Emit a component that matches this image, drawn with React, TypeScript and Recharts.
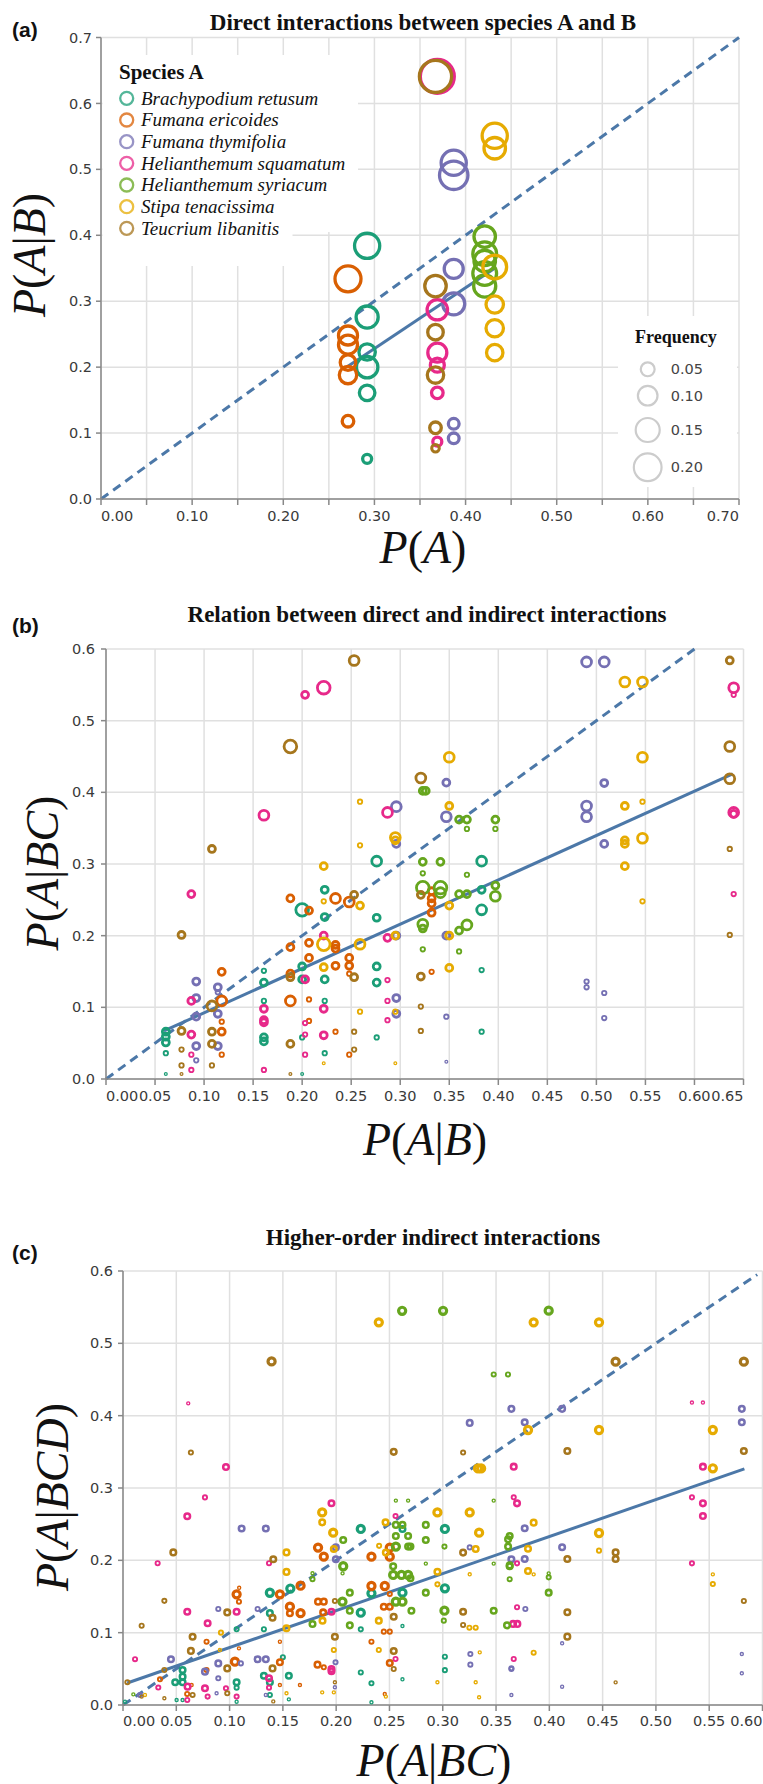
import React from "react";
import { CartesianGrid, ReferenceLine, Scatter, ScatterChart, XAxis, YAxis } from "recharts";

type Pt = [number, number, number]; // [x, y, frequency]

const speciesNames = [
  "Brachypodium retusum",
  "Fumana ericoides",
  "Fumana thymifolia",
  "Helianthemum squamatum",
  "Helianthemum syriacum",
  "Stipa tenacissima",
  "Teucrium libanitis",
];
const speciesColors = ["#1b9e77", "#d95f02", "#7570b3", "#e7298a", "#66a61e", "#e6ab02", "#a6761d"];

// ---------- (a) P(A) vs P(A|B) ----------
const aBR: Pt[] = [[0.292, 0.384, 0.165], [0.292, 0.276, 0.127], [0.292, 0.223, 0.07], [0.292, 0.2, 0.12], [0.292, 0.161, 0.063], [0.292, 0.061, 0.021]];
const aFE: Pt[] = [[0.271, 0.334, 0.176], [0.271, 0.248, 0.094], [0.271, 0.234, 0.094], [0.271, 0.207, 0.063], [0.271, 0.188, 0.079], [0.271, 0.118, 0.035]];
const aFT: Pt[] = [[0.387, 0.51, 0.165], [0.387, 0.491, 0.21], [0.387, 0.349, 0.094], [0.387, 0.296, 0.127], [0.387, 0.114, 0.03], [0.387, 0.092, 0.03]];
const aHS: Pt[] = [[0.369, 0.641, 0.3], [0.369, 0.287, 0.108], [0.369, 0.222, 0.094], [0.369, 0.203, 0.051], [0.369, 0.161, 0.035], [0.369, 0.087, 0.021]];
const aHY: Pt[] = [[0.421, 0.398, 0.12], [0.421, 0.372, 0.147], [0.421, 0.361, 0.12], [0.421, 0.342, 0.147], [0.421, 0.323, 0.127]];
const aST: Pt[] = [[0.432, 0.551, 0.165], [0.432, 0.532, 0.12], [0.432, 0.352, 0.147], [0.432, 0.295, 0.079], [0.432, 0.259, 0.079], [0.432, 0.222, 0.07]];
const aTL: Pt[] = [[0.367, 0.641, 0.27], [0.367, 0.323, 0.12], [0.367, 0.253, 0.063], [0.367, 0.188, 0.07], [0.367, 0.108, 0.035], [0.367, 0.077, 0.015]];
const aXTicks = [0, 0.05, 0.1, 0.15, 0.2, 0.25, 0.3, 0.35, 0.4, 0.45, 0.5, 0.55, 0.6, 0.65, 0.7];
const aYTicks = [0, 0.1, 0.2, 0.3, 0.4, 0.5, 0.6, 0.7];
const aFit = [{ x: 0.271, y: 0.2015 }, { x: 0.432, y: 0.35 }];
const aDiag = [{ x: 0, y: 0 }, { x: 0.7, y: 0.7 }];
const freqLegend = [0.05, 0.1, 0.15, 0.2];

// ---------- (b) P(A|B) vs P(A|BC) ----------
const L = 0.1, M = 0.06, S = 0.03, XS = 0.012, XXS = 0.005;
const bBR: Pt[] = [
  [0.061, 0.066, S], [0.061, 0.059, S], [0.061, 0.051, S], [0.061, 0.036, XS], [0.061, 0.007, XXS],
  [0.161, 0.151, XS], [0.161, 0.1345, S], [0.161, 0.109, XS], [0.161, 0.058, S], [0.161, 0.0525, S],
  [0.2, 0.236, L], [0.2, 0.157, S], [0.2, 0.139, S], [0.2, 0.058, XS], [0.2, 0.007, XXS],
  [0.223, 0.264, S], [0.223, 0.226, S], [0.223, 0.139, S], [0.223, 0.109, XS], [0.223, 0.036, XS],
  [0.276, 0.304, M], [0.276, 0.225, S], [0.276, 0.157, S], [0.276, 0.1345, S], [0.276, 0.058, XS],
  [0.383, 0.304, M], [0.383, 0.264, S], [0.383, 0.236, M], [0.383, 0.152, XS], [0.383, 0.066, XS],
];
const bFE: Pt[] = [
  [0.118, 0.1495, S], [0.118, 0.109, M], [0.118, 0.08, XS], [0.118, 0.066, S], [0.118, 0.034, XS],
  [0.188, 0.252, S], [0.188, 0.184, S], [0.188, 0.147, S], [0.188, 0.109, M],
  [0.207, 0.235, S], [0.207, 0.19, S], [0.207, 0.169, S], [0.207, 0.111, XS], [0.207, 0.081, XS],
  [0.234, 0.252, M], [0.234, 0.187, S], [0.234, 0.182, S], [0.234, 0.158, S], [0.234, 0.066, XS],
  [0.248, 0.247, M], [0.248, 0.169, S], [0.248, 0.158, S], [0.248, 0.147, XS], [0.248, 0.034, XS],
  [0.332, 0.262, S], [0.332, 0.252, S], [0.332, 0.245, S], [0.332, 0.232, S], [0.332, 0.1495, XS],
];
const bFT: Pt[] = [
  [0.092, 0.136, S], [0.092, 0.113, S], [0.092, 0.087, S], [0.092, 0.046, S], [0.092, 0.026, XS],
  [0.114, 0.128, S], [0.114, 0.121, XS], [0.114, 0.091, S], [0.114, 0.046, S],
  [0.296, 0.38, M], [0.296, 0.328, S], [0.296, 0.2, S], [0.296, 0.113, S], [0.296, 0.091, S],
  [0.347, 0.4135, S], [0.347, 0.366, M], [0.347, 0.2, S], [0.347, 0.087, XS], [0.347, 0.024, XXS],
  [0.49, 0.582, M], [0.49, 0.381, M], [0.49, 0.366, M], [0.49, 0.136, XS], [0.49, 0.128, XS],
  [0.508, 0.582, M], [0.508, 0.413, S], [0.508, 0.328, S], [0.508, 0.12, XS], [0.508, 0.085, XS],
];
const bHS: Pt[] = [
  [0.087, 0.258, S], [0.087, 0.109, S], [0.087, 0.062, S], [0.087, 0.034, XS], [0.087, 0.0126, XS],
  [0.161, 0.368, M], [0.161, 0.098, S], [0.161, 0.082, S], [0.161, 0.079, S], [0.161, 0.0126, XS],
  [0.203, 0.536, S], [0.203, 0.139, S], [0.203, 0.078, XS], [0.203, 0.062, XS], [0.203, 0.034, XS],
  [0.222, 0.546, L], [0.222, 0.2, S], [0.222, 0.098, S], [0.222, 0.061, S],
  [0.287, 0.372, M], [0.287, 0.197, S], [0.287, 0.138, XS], [0.287, 0.109, XS], [0.287, 0.082, XS],
  [0.64, 0.546, M], [0.64, 0.536, XS], [0.64, 0.372, M], [0.64, 0.37, S], [0.64, 0.258, XS],
];
const bHY: Pt[] = [
  [0.323, 0.402, S], [0.326, 0.402, S], [0.323, 0.303, S], [0.323, 0.287, XS], [0.323, 0.267, L], [0.323, 0.216, M], [0.323, 0.21, S], [0.323, 0.181, XS],
  [0.341, 0.303, S], [0.341, 0.267, L], [0.341, 0.26, M],
  [0.36, 0.362, S], [0.36, 0.258, S], [0.36, 0.207, S], [0.36, 0.178, XS],
  [0.368, 0.362, S], [0.368, 0.349, XS], [0.368, 0.285, XS], [0.368, 0.258, S], [0.368, 0.215, M],
  [0.397, 0.362, S], [0.397, 0.349, XS], [0.397, 0.27, S], [0.397, 0.255, M],
];
const bST: Pt[] = [
  [0.222, 0.297, S], [0.222, 0.248, XS], [0.222, 0.188, L], [0.222, 0.156, S], [0.222, 0.022, XXS],
  [0.259, 0.387, XS], [0.259, 0.326, XS], [0.259, 0.242, S], [0.259, 0.188, M], [0.259, 0.094, XS],
  [0.295, 0.337, M], [0.295, 0.333, S], [0.295, 0.2, S], [0.295, 0.094, XS], [0.295, 0.022, XXS],
  [0.35, 0.449, M], [0.35, 0.381, S], [0.35, 0.242, S], [0.35, 0.2, S], [0.35, 0.155, S],
  [0.529, 0.554, M], [0.529, 0.381, S], [0.529, 0.333, S], [0.529, 0.328, S], [0.529, 0.297, S],
  [0.547, 0.554, M], [0.547, 0.449, M], [0.547, 0.387, XS], [0.547, 0.336, M], [0.547, 0.248, XS],
];
const bTL: Pt[] = [
  [0.077, 0.201, S], [0.077, 0.067, S], [0.077, 0.041, XS], [0.077, 0.019, XS], [0.077, 0.007, XXS],
  [0.108, 0.321, S], [0.108, 0.102, M], [0.108, 0.066, S], [0.108, 0.049, S], [0.108, 0.019, XS],
  [0.188, 0.464, L], [0.188, 0.142, S], [0.188, 0.049, S], [0.188, 0.007, XXS],
  [0.253, 0.584, M], [0.253, 0.257, S], [0.253, 0.142, S], [0.253, 0.066, XS], [0.253, 0.041, XS],
  [0.321, 0.42, M], [0.321, 0.257, S], [0.321, 0.143, S], [0.321, 0.101, XS], [0.321, 0.067, XS],
  [0.636, 0.584, S], [0.636, 0.464, M], [0.636, 0.419, M], [0.636, 0.321, XS], [0.636, 0.201, XS],
];
const bXTicks = [0, 0.05, 0.1, 0.15, 0.2, 0.25, 0.3, 0.35, 0.4, 0.45, 0.5, 0.55, 0.6, 0.65];
const bYTicks = [0, 0.1, 0.2, 0.3, 0.4, 0.5, 0.6];
const bFit = [{ x: 0.059, y: 0.067 }, { x: 0.639, y: 0.4256 }];
const bDiag = [{ x: 0, y: 0 }, { x: 0.6, y: 0.6 }];

// ---------- (c) P(A|BC) vs P(A|BCD) ----------
const cL = 0.06, cM = 0.037, cS = 0.021, cX = 0.011;
const cBR: Pt[] = [
  [0.2231, 0.2434, cL], [0.2622, 0.2434, cM], [0.302, 0.2434, cL], [0.157, 0.161, cL], [0.1378, 0.1552, cL], [0.302, 0.1613, cL],
  [0.2622, 0.1553, cL], [0.2331, 0.1544, cL], [0.2231, 0.1276, cL], [0.1378, 0.127, cM], [0.2622, 0.1092, cX], [0.2231, 0.1046, cS],
  [0.1322, 0.1047, cS], [0.1066, 0.1047, cS], [0.302, 0.0668, cS], [0.15, 0.066, cS], [0.0559, 0.0484, cM], [0.0559, 0.0392, cM],
  [0.049, 0.0315, cM], [0.0559, 0.0315, cM], [0.1066, 0.0315, cM], [0.1378, 0.0315, cM], [0.1322, 0.0404, cM], [0.1556, 0.0404, cM],
  [0.2231, 0.045, cS], [0.302, 0.0482, cS], [0.2622, 0.0355, cX], [0.2331, 0.03, cS], [0.0503, 0.0069, cX], [0.1066, 0.0046, cX],
  [0.1556, 0.0078, cX], [0.2331, 0.0037, cX], [0.0019, 0.0046, cX], [0.0559, 0.0069, cX], [0.1378, 0.0139, cS], [0.1066, 0.024, cS],
];
const cFE: Pt[] = [
  [0.183, 0.2176, cL], [0.2503, 0.2176, cL], [0.1884, 0.2051, cL], [0.2331, 0.2051, cL], [0.2503, 0.2051, cL], [0.2331, 0.1645, cL],
  [0.2456, 0.1645, cL], [0.1666, 0.1649, cL], [0.1472, 0.153, cL], [0.1066, 0.153, cL], [0.2503, 0.1535, cS], [0.1088, 0.1428, cS],
  [0.183, 0.1429, cM], [0.1884, 0.1429, cM], [0.1566, 0.136, cL], [0.1566, 0.1269, cM], [0.1666, 0.127, cL], [0.1878, 0.128, cM],
  [0.2447, 0.1359, cM], [0.2503, 0.1359, cM], [0.2447, 0.1014, cS], [0.2503, 0.1014, cS], [0.2331, 0.0875, cS], [0.0784, 0.0875, cS],
  [0.1088, 0.0783, cX], [0.1472, 0.0875, cX], [0.1825, 0.0558, cM], [0.1884, 0.0521, cS], [0.2503, 0.0581, cM], [0.0784, 0.0484, cS],
  [0.105, 0.0599, cL], [0.1472, 0.059, cM], [0.0347, 0.0355, cS], [0.166, 0.0276, cX], [0.1472, 0.0276, cX], [0.0644, 0.0276, cX],
  [0.2456, 0.0152, cX], [0.109, 0.162, cX], [0.0602, 0.0152, cS],
];
const cFT: Pt[] = [
  [0.3644, 0.4094, cM], [0.412, 0.4094, cM], [0.5806, 0.4094, cM], [0.3253, 0.39, cM], [0.3769, 0.3908, cM], [0.5806, 0.3908, cM],
  [0.1113, 0.244, cM], [0.134, 0.244, cM], [0.3769, 0.2443, cM], [0.1997, 0.2179, cM], [0.3253, 0.2179, cS], [0.412, 0.218, cM],
  [0.1997, 0.2015, cM], [0.3644, 0.2015, cM], [0.3769, 0.2018, cM], [0.0894, 0.1327, cS], [0.1263, 0.1327, cS], [0.3775, 0.1327, cS],
  [0.045, 0.0633, cM], [0.0894, 0.0575, cM], [0.1263, 0.0633, cM], [0.134, 0.0633, cM], [0.1106, 0.0575, cS], [0.1994, 0.059, cS],
  [0.0769, 0.0461, cM], [0.0894, 0.0369, cS], [0.3259, 0.0704, cS], [0.3259, 0.0558, cS], [0.3644, 0.0498, cS], [0.412, 0.0853, cX],
  [0.5806, 0.0705, cX], [0.5806, 0.0438, cX], [0.412, 0.0253, cX], [0.3644, 0.0138, cX], [0.0159, 0.0139, cS], [0.0878, 0.0162, cX],
  [0.134, 0.0139, cX], [0.1988, 0.0245, cX], [0.3644, 0.0507, cS],
];
const cHS: Pt[] = [
  [0.0612, 0.417, cX], [0.5338, 0.4181, cX], [0.5441, 0.4181, cX], [0.0966, 0.329, cM], [0.3666, 0.3295, cM], [0.5441, 0.3295, cM],
  [0.0769, 0.287, cS], [0.3666, 0.2871, cS], [0.5338, 0.2871, cS], [0.1956, 0.279, cM], [0.3697, 0.2788, cM], [0.5441, 0.2788, cM],
  [0.0603, 0.261, cM], [0.2557, 0.2612, cS], [0.5441, 0.2613, cM], [0.0325, 0.196, cS], [0.137, 0.196, cS], [0.5338, 0.1958, cS],
  [0.3697, 0.1958, cS], [0.0603, 0.129, cM], [0.1066, 0.129, cM], [0.1956, 0.129, cM], [0.3697, 0.1351, cS], [0.366, 0.1121, cM],
  [0.37, 0.1121, cM], [0.0794, 0.113, cM], [0.1956, 0.0498, cM], [0.1956, 0.0466, cM], [0.2557, 0.0636, cS], [0.3666, 0.0636, cS],
  [0.0113, 0.0633, cS], [0.0331, 0.0241, cS], [0.0606, 0.0254, cM], [0.0769, 0.0231, cM], [0.1066, 0.0116, cS], [0.0794, 0.0116, cS],
  [0.0966, 0.0231, cS], [0.137, 0.0369, cM], [0.137, 0.024, cS], [0.0603, 0.0069, cS],
];
const cHY: Pt[] = [
  [0.2619, 0.545, cL], [0.3003, 0.545, cL], [0.3994, 0.5452, cL], [0.3478, 0.457, cS], [0.3612, 0.457, cS], [0.256, 0.2826, cX],
  [0.2675, 0.2826, cX], [0.3478, 0.2826, cX], [0.256, 0.249, cM], [0.2622, 0.249, cM], [0.2841, 0.249, cM], [0.256, 0.2336, cM],
  [0.2675, 0.2336, cM], [0.3628, 0.2336, cM], [0.3613, 0.229, cM], [0.2066, 0.228, cM], [0.2841, 0.228, cM], [0.256, 0.219, cL],
  [0.2675, 0.219, cM], [0.2697, 0.219, cM], [0.3016, 0.219, cS], [0.3613, 0.219, cM], [0.2535, 0.1918, cM], [0.2066, 0.1918, cL],
  [0.2841, 0.1955, cX], [0.3478, 0.1955, cX], [0.3628, 0.1918, cM], [0.2535, 0.1798, cL], [0.2613, 0.1798, cL], [0.2675, 0.1798, cL],
  [0.2697, 0.1752, cM], [0.1778, 0.1821, cX], [0.206, 0.182, cX], [0.1778, 0.174, cS], [0.2128, 0.1553, cM], [0.2841, 0.1553, cM],
  [0.3628, 0.1739, cS], [0.3994, 0.182, cX], [0.3994, 0.1765, cS], [0.3994, 0.1553, cM], [0.2059, 0.1429, cL], [0.256, 0.1429, cL],
  [0.2622, 0.1429, cL], [0.2706, 0.1304, cM], [0.3016, 0.1304, cL], [0.3478, 0.1304, cM], [0.2128, 0.1304, cM], [0.1778, 0.112, cM],
  [0.2128, 0.1101, cM], [0.301, 0.1166, cS], [0.3603, 0.1101, cM], [0.0097, 0.0147, cX], [0.3628, 0.193, cM],
];
const cST: Pt[] = [
  [0.24, 0.529, cL], [0.3853, 0.529, cL], [0.4466, 0.529, cL], [0.38, 0.3802, cL], [0.4466, 0.3802, cL], [0.5534, 0.3802, cL],
  [0.3331, 0.327, cL], [0.336, 0.327, cL], [0.5534, 0.3272, cL], [0.1869, 0.2663, cL], [0.295, 0.2663, cL], [0.3253, 0.2663, cL],
  [0.1869, 0.2525, cM], [0.2463, 0.2525, cM], [0.3853, 0.2521, cM], [0.1972, 0.2383, cL], [0.3341, 0.2383, cL], [0.4466, 0.2378, cL],
  [0.2403, 0.22, cS], [0.1978, 0.2157, cM], [0.3309, 0.2157, cM], [0.38, 0.2161, cM], [0.2466, 0.2107, cM], [0.1534, 0.211, cM],
  [0.4466, 0.2134, cS], [0.1534, 0.184, cM], [0.295, 0.1843, cM], [0.38, 0.1852, cM], [0.3253, 0.1807, cX], [0.3853, 0.1806, cX],
  [0.5534, 0.1806, cX], [0.5534, 0.1672, cS], [0.295, 0.1668, cS], [0.1872, 0.1166, cM], [0.24, 0.1166, cM], [0.1534, 0.1061, cM],
  [0.0919, 0.1, cS], [0.325, 0.1069, cS], [0.3309, 0.1069, cS], [0.1978, 0.076, cS], [0.24, 0.076, cS], [0.0909, 0.0761, cX],
  [0.3347, 0.0728, cX], [0.3853, 0.0723, cS], [0.295, 0.0314, cX], [0.3309, 0.0314, cX], [0.1869, 0.0175, cX], [0.1978, 0.0175, cX],
  [0.2466, 0.0116, cX], [0.3341, 0.0107, cX], [0.0206, 0.0139, cX], [0.1534, 0.0162, cX],
];
const cTL: Pt[] = [
  [0.1394, 0.475, cL], [0.4622, 0.4747, cL], [0.5825, 0.4747, cL], [0.0637, 0.349, cS], [0.254, 0.35, cM], [0.3191, 0.349, cS],
  [0.4169, 0.3511, cM], [0.5825, 0.3511, cM], [0.0472, 0.211, cM], [0.3191, 0.2107, cM], [0.4622, 0.211, cM], [0.141, 0.2015, cM],
  [0.4169, 0.2018, cM], [0.4622, 0.2018, cM], [0.0388, 0.144, cS], [0.1988, 0.1438, cS], [0.5825, 0.1438, cS], [0.0978, 0.128, cM],
  [0.1403, 0.1206, cM], [0.3191, 0.129, cM], [0.4169, 0.1282, cM], [0.254, 0.1221, cM], [0.0175, 0.1096, cS], [0.3191, 0.1106, cS],
  [0.0653, 0.0944, cM], [0.1988, 0.0944, cM], [0.4169, 0.0945, cM], [0.0637, 0.0748, cM], [0.254, 0.0746, cM], [0.0388, 0.0484, cS],
  [0.0978, 0.0506, cM], [0.1403, 0.0506, cM], [0.254, 0.0498, cS], [0.0041, 0.0315, cS], [0.1988, 0.0314, cX], [0.4622, 0.0313, cX],
  [0.0175, 0.0116, cX], [0.0388, 0.0093, cX], [0.0653, 0.0139, cS], [0.0978, 0.0162, cS], [0.141, 0.005, cX],
];
const cXTicks = [0, 0.05, 0.1, 0.15, 0.2, 0.25, 0.3, 0.35, 0.4, 0.45, 0.5, 0.55, 0.6];
const cYTicks = [0, 0.1, 0.2, 0.3, 0.4, 0.5, 0.6];
const cFit = [{ x: 0.004, y: 0.0304 }, { x: 0.583, y: 0.3264 }];
const cDiag = [{ x: 0, y: 0 }, { x: 0.595, y: 0.595 }];

const LINE = "#4c78a8";
const AXIS = "#888";
const GRID = "#e0e0e0";
const TICK_FONT = "DejaVu Sans";
const SERIF = "Liberation Serif";

const toPts = (arr: Pt[]) => arr.map(([x, y, f]) => ({ x, y, f }));

const ring = (color: string, k: number, maxW: number, ratio: number) => (p: any) => {
  const r = k * Math.sqrt(p.payload.f);
  return <circle cx={p.cx} cy={p.cy} r={r} fill="none" stroke={color} strokeWidth={Math.min(maxW, ratio * r)} />;
};

const makeXTick = (min: number, max: number, labelStep: number) => (props: any) => {
  const { x, y, payload } = props;
  const v = payload.value;
  const k = v / labelStep;
  if (Math.abs(k - Math.round(k)) > 1e-6) return <g />;
  const anchor = Math.abs(v - min) < 1e-9 ? "start" : Math.abs(v - max) < 1e-9 ? "end" : "middle";
  return (
    <text x={x} y={y} dy="0.71em" textAnchor={anchor} fontFamily={TICK_FONT} fontSize={14.5} fill="#3a3a3a">
      {v.toFixed(2)}
    </text>
  );
};

const YTick = (props: any) => (
  <text x={props.x} y={props.y} dy="0.35em" textAnchor="end" fontFamily={TICK_FONT} fontSize={14.5} fill="#3a3a3a">
    {props.payload.value.toFixed(1)}
  </text>
);

interface PanelProps {
  top: number;
  height: number;
  marginTop: number;
  marginRight: number;
  yWidth: number;
  xHeight: number;
  xTicks: number[];
  yTicks: number[];
  labelStep: number;
  yTickMargin: number;
  xTickMargin: number;
  series: Pt[][];
  k: number;
  maxW: number;
  ratio: number;
  fit: { x: number; y: number }[];
  diag: { x: number; y: number }[];
}

const Panel: React.FC<PanelProps> = (p) => {
  const xMax = p.xTicks[p.xTicks.length - 1];
  const yMax = p.yTicks[p.yTicks.length - 1];
  return (
    <div style={{ position: "absolute", left: 0, top: p.top }}>
      <ScatterChart width={763} height={p.height} margin={{ top: p.marginTop, right: p.marginRight, left: 0, bottom: 0 }}>
        <CartesianGrid stroke={GRID} strokeWidth={1.5} />
        <XAxis
          type="number"
          dataKey="x"
          domain={[0, xMax]}
          ticks={p.xTicks}
          interval={0}
          height={p.xHeight}
          tickSize={6}
          tickMargin={p.xTickMargin}
          axisLine={{ stroke: AXIS, strokeWidth: 1.5 }}
          tickLine={{ stroke: AXIS, strokeWidth: 1.5 }}
          tick={makeXTick(0, xMax, p.labelStep)}
        />
        <YAxis
          type="number"
          dataKey="y"
          domain={[0, yMax]}
          ticks={p.yTicks}
          interval={0}
          width={p.yWidth}
          tickSize={5}
          tickMargin={p.yTickMargin}
          axisLine={{ stroke: AXIS, strokeWidth: 1.5 }}
          tickLine={{ stroke: AXIS, strokeWidth: 1.5 }}
          tick={YTick}
        />
        {p.series.map((s, i) => (
          <Scatter
            key={speciesNames[i]}
            name={speciesNames[i]}
            data={toPts(s)}
            fill={speciesColors[i]}
            shape={ring(speciesColors[i], p.k, p.maxW, p.ratio)}
            isAnimationActive={false}
          />
        ))}
        <ReferenceLine segment={[p.diag[0], p.diag[1]]} stroke={LINE} strokeWidth={3} strokeDasharray="9 6" ifOverflow="visible" />
        <ReferenceLine segment={[p.fit[0], p.fit[1]]} stroke={LINE} strokeWidth={3} ifOverflow="visible" />
      </ScatterChart>
    </div>
  );
};

const MathLabel: React.FC<{ parts: string[] }> = ({ parts }) => (
  <>
    {parts.map((t, i) => (
      <tspan key={i} fontStyle={/[A-Z]/.test(t) ? "italic" : "normal"}>
        {t}
      </tspan>
    ))}
  </>
);

const legendRows = [98.3, 120, 141.7, 163.3, 185, 206.7, 228.3];
const freqRows = [369.3, 395.7, 430, 467.3];

const App: React.FC = () => {
  const mathStyle = { fontFamily: SERIF, fontSize: 46, fill: "#111" };
  const titleStyle = { fontFamily: SERIF, fontSize: 23, fontWeight: 700, fill: "#111" };
  const tagStyle = { fontFamily: "Liberation Sans", fontSize: 21, fontWeight: 700, fill: "#111" };
  return (
    <div style={{ position: "absolute", left: 0, top: 0, width: 763, height: 1784, background: "#fff", overflow: "hidden" }}>
      <Panel top={0} height={560} marginTop={37.5} marginRight={24} yWidth={101} xHeight={61}
        xTicks={aXTicks} yTicks={aYTicks} labelStep={0.1} yTickMargin={4} xTickMargin={6}
        series={[aBR, aFE, aFT, aHS, aHY, aST, aTL]} k={31} maxW={3.3} ratio={0.8} fit={aFit} diag={aDiag} />
      <Panel top={560} height={600} marginTop={89} marginRight={19.5} yWidth={106} xHeight={81}
        xTicks={bXTicks} yTicks={bYTicks} labelStep={0.05} yTickMargin={6} xTickMargin={6}
        series={[bBR, bFE, bFT, bHS, bHY, bST, bTL]} k={20} maxW={2.8} ratio={0.85} fit={bFit} diag={bDiag} />
      <Panel top={1160} height={624} marginTop={111} marginRight={0.5} yWidth={123} xHeight={79}
        xTicks={cXTicks} yTicks={cYTicks} labelStep={0.05} yTickMargin={5} xTickMargin={5}
        series={[cBR, cFE, cFT, cHS, cHY, cST, cTL]} k={14.5} maxW={3.2} ratio={0.9} fit={cFit} diag={cDiag} />

      <svg width={763} height={1784} style={{ position: "absolute", left: 0, top: 0, pointerEvents: "none" }}>
        {/* panel (a) legends */}
        <rect x={102.5} y={55} width={255.5} height={177} fill="#fff" />
        <rect x={102.5} y={232} width={190} height={34} fill="#fff" />
        <text x={119} y={71.7} dy="0.33em" style={{ fontFamily: SERIF, fontSize: 21, fontWeight: 700, fill: "#111" }}>Species A</text>
        {speciesNames.map((n, i) => (
          <g key={n}>
            <circle cx={126.7} cy={legendRows[i]} r={6.5} fill="none" stroke={speciesColors[i]} strokeOpacity={0.75} strokeWidth={2.3} />
            <text x={141} y={legendRows[i]} dy="0.33em" style={{ fontFamily: SERIF, fontSize: 19, fontStyle: "italic", fill: "#111" }}>{n}</text>
          </g>
        ))}
        <rect x={618} y={316} width={119} height={171} fill="#fff" />
        <text x={635} y={337} dy="0.33em" style={{ fontFamily: SERIF, fontSize: 18, fontWeight: 700, fill: "#111" }}>Frequency</text>
        {freqLegend.map((f, i) => (
          <g key={f}>
            <circle cx={647.7} cy={freqRows[i]} r={31 * Math.sqrt(f)} fill="none" stroke="#ccc" strokeWidth={2.2} />
            <text x={670.7} y={freqRows[i]} dy="0.35em" style={{ fontFamily: TICK_FONT, fontSize: 14.5, fill: "#444" }}>{f.toFixed(2)}</text>
          </g>
        ))}

        {/* tags and titles */}
        <text x={12} y={30} dy="0.35em" style={tagStyle}>(a)</text>
        <text x={423} y={22} dy="0.33em" textAnchor="middle" style={titleStyle}>Direct interactions between species A and B</text>
        <text x={12} y={626} dy="0.35em" style={tagStyle}>(b)</text>
        <text x={427} y={614} dy="0.33em" textAnchor="middle" style={titleStyle}>Relation between direct and indirect interactions</text>
        <text x={12} y={1253} dy="0.35em" style={tagStyle}>(c)</text>
        <text x={433} y={1237} dy="0.33em" textAnchor="middle" style={titleStyle}>Higher-order indirect interactions</text>

        {/* axis titles */}
        <text x={423} y={551} dy="0.25em" textAnchor="middle" style={mathStyle}><MathLabel parts={["P", "(", "A", ")"]} /></text>
        <text transform="translate(33,255) rotate(-90)" dy="0.25em" textAnchor="middle" style={mathStyle}><MathLabel parts={["P", "(", "A", "|", "B", ")"]} /></text>
        <text x={425} y={1143} dy="0.25em" textAnchor="middle" style={mathStyle}><MathLabel parts={["P", "(", "A", "|", "B", ")"]} /></text>
        <text transform="translate(46,873) rotate(-90)" dy="0.25em" textAnchor="middle" style={mathStyle}><MathLabel parts={["P", "(", "A", "|", "BC", ")"]} /></text>
        <text x={434} y={1764} dy="0.25em" textAnchor="middle" style={mathStyle}><MathLabel parts={["P", "(", "A", "|", "BC", ")"]} /></text>
        <text transform="translate(56,1497) rotate(-90)" dy="0.25em" textAnchor="middle" style={mathStyle}><MathLabel parts={["P", "(", "A", "|", "BCD", ")"]} /></text>
      </svg>
    </div>
  );
};

export default App;
